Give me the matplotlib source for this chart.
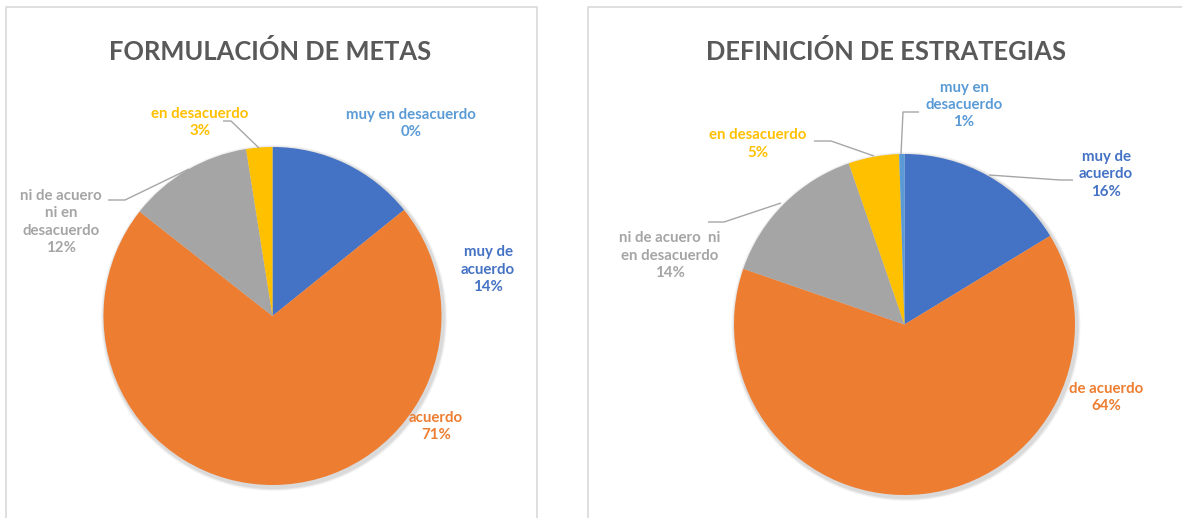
import matplotlib
matplotlib.use("Agg")
import matplotlib.pyplot as plt
from matplotlib.patches import Circle

plt.rcParams['font.family'] = ['Lato', 'DejaVu Sans']

# data
categories = ["muy de acuerdo", "de acuerdo", "ni de acuero ni en desacuerdo",
              "en desacuerdo", "muy en desacuerdo"]
metas = [14.2, 71.4, 11.9, 2.5, 0.0]
metas_pct = ["14%", "71%", "12%", "3%", "0%"]
estrategias = [16.3, 64.0, 14.4, 4.8, 0.5]
estrategias_pct = ["16%", "64%", "14%", "5%", "1%"]

metas_labels = ["muy de\nacuerdo", "acuerdo", "ni de acuero\nni en\ndesacuerdo",
                "en desacuerdo", "muy en desacuerdo"]
estrategias_labels = ["muy de\nacuerdo", "de acuerdo", "ni de acuero  ni\nen desacuerdo",
                      "en desacuerdo", "muy en\ndesacuerdo"]

colors = ["#4472C4", "#ED7D31", "#A5A5A5", "#FFC000", "#5B9BD5"]

W, H = 1182, 518
fig = plt.figure(figsize=(W / 100, H / 100), dpi=100)
ax = fig.add_axes([0, 0, 1, 1])


def Y(y):
    # image row -> data y
    return H - y


def draw_pie(values, pct, labels, title, center, radius, title_x, label_pos, leaders):
    cx, cy = center
    # soft shadow
    for k, a in [(4, 0.04), (3, 0.05), (2, 0.06)]:
        ax.add_patch(Circle((cx + 1.5, Y(cy) - 2), radius + k, color="black",
                            alpha=a, lw=0, zorder=1))
    ax.pie(values, colors=colors, startangle=90, counterclock=False,
           center=(cx, Y(cy)), radius=radius, frame=True,
           wedgeprops=dict(linewidth=0, zorder=2))
    ax.text(title_x, Y(51), title, ha="center", va="center", fontsize=18.4,
            fontweight="bold", color="#595959")
    for i, (lx, ly) in enumerate(label_pos):
        ax.text(lx, Y(ly), f"{labels[i]}\n{pct[i]}", ha="center", va="center",
                fontsize=10.8, fontweight="bold", color=colors[i],
                linespacing=1.3, zorder=5)
    for pts in leaders:
        ax.plot([p[0] for p in pts], [Y(p[1]) for p in pts], color="#A6A6A6",
                lw=1, zorder=4, solid_capstyle="butt")


draw_pie(metas, metas_pct, metas_labels, "FORMULACIÓN DE METAS", (272.5, 316), 169, 270,
         [(488, 269.5), (436, 426.5), (61, 222), (200, 122.5), (411, 123.5)],
         [[(108, 200), (125, 200), (189, 169)],
          [(223, 121), (231, 121), (259, 148)]])

draw_pie(estrategias, estrategias_pct, estrategias_labels, "DEFINICIÓN DE ESTRATEGIAS",
         (904.5, 324.5), 170.5, 886,
         [(1106, 174.5), (1106, 397.5), (670, 255.5), (758, 144), (964, 105)],
         [[(919, 112), (903, 112), (901, 154)],
          [(814, 141), (831, 141), (874, 156)],
          [(989, 175), (1060, 180), (1073, 180)],
          [(708, 222), (724, 222), (781, 203)]])

# panel borders
border = "#D9D9D9"
ax.plot([5.5, 5.5, 536.5, 536.5], [0, Y(7), Y(7), 0], color=border, lw=1.2)
ax.plot([587.5, 587.5, W], [0, Y(7), Y(7)], color=border, lw=1.2)

ax.set_xlim(0, W)
ax.set_ylim(0, H)
ax.set_aspect("auto")
ax.axis("off")

fig.savefig("out.png", dpi=100)
